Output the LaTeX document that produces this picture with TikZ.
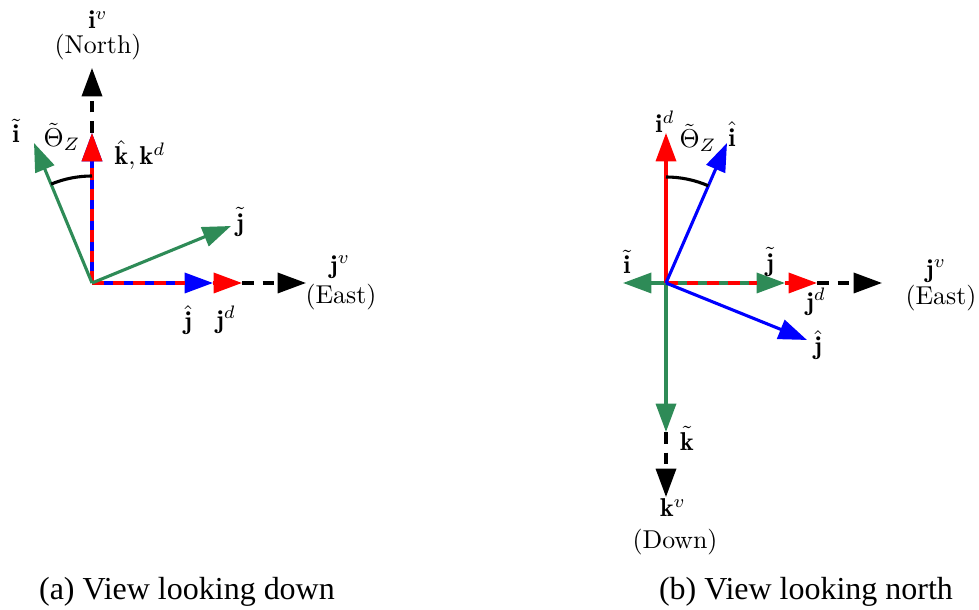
\documentclass[tikz,border=0pt]{standalone}
\usepackage{fontspec}
\newfontfamily\capfont{Liberation Serif}
\usetikzlibrary{arrows.meta,calc}
\definecolor{vgreen}{RGB}{46,139,87}
\definecolor{vred}{RGB}{255,0,0}
\definecolor{vblue}{RGB}{0,0,255}

\begin{document}
\begin{tikzpicture}[x=0.3876pt, y=-0.3876pt,
    >={Triangle[length=11pt,width=7.8pt]},
    vec/.style={line width=1.2pt, ->},
    dvec/.style={vec, dash pattern=on 4.5pt off 3.5pt},
    dline/.style={line width=1.2pt, dash pattern=on 4.5pt off 3.5pt},
    lbl/.style={inner sep=0pt},
    captext/.style={inner sep=0pt, font=\capfont\fontsize{12.4}{14}\selectfont}]

    \useasboundingbox (0,0) rectangle (979,610);

    % ---------------- (a) view looking down ----------------
    \coordinate (oa) at (92,283);
    \coordinate (iv) at (92,68);
    \coordinate (kd) at (92,133);
    \coordinate (jh) at (213,283);
    \coordinate (jd) at (242,283);
    \coordinate (jv) at (306,283);
    \coordinate (it) at (34,143);
    \coordinate (jt) at (231,226);

    % vehicle frame (black, dashed)
    \draw[dvec, black] (kd) -- (iv);
    \draw[dvec, black] (jd) -- (jv);

    % estimate (blue) under desired (red, dashed)
    \draw[vec, vblue] (oa) -- (kd);
    \draw[dvec, vred] (oa) -- (kd);
    \draw[vec, vblue] (oa) -- (jh);
    \draw[dline, vred, shorten >=11pt] (oa) -- (jh);
    \draw[vec, vred] (jh) -- (jd);

    % true frame (green)
    \draw[vec, vgreen] (oa) -- (it);
    \draw[vec, vgreen] (oa) -- (jt);

    % yaw angle
    \draw[line width=1.2pt] (oa) ++(270:107) arc[start angle=270, end angle=247.5, radius=107];

    \node[lbl] (lIv) at (98,20) {$\mathbf{i}^v$};
    \node[lbl] (lNorth) at (98,47) {(North)};
    \node[lbl] (lIt) at (16,131) {$\tilde{\mathbf{i}}$};
    \node[lbl] (lThA) at (62,137) {$\tilde{\Theta}_Z$};
    \node[lbl] (lKd) at (140,155) {$\hat{\mathbf{k}},\mathbf{k}^d$};
    \node[lbl] (lJt) at (240,222) {$\tilde{\mathbf{j}}$};
    \node[lbl] (lJv) at (340,267) {$\mathbf{j}^v$};
    \node[lbl] (lEastA) at (341,297) {(East)};
    \node[lbl] (lJh) at (188,320) {$\hat{\mathbf{j}}$};
    \node[lbl] (lJd) at (226,320) {$\mathbf{j}^d$};

    % ---------------- (b) view looking north ----------------
    \coordinate (ob) at (666,283);
    \coordinate (idb) at (666,133);
    \coordinate (ihb) at (727,143);
    \coordinate (jhb) at (807,340);
    \coordinate (itb) at (623,283);
    \coordinate (jtb) at (785,283);
    \coordinate (jdb) at (817,283);
    \coordinate (jvb) at (882,283);
    \coordinate (ktb) at (666,432);
    \coordinate (kvb) at (666,497);

    % vehicle frame (black, dashed)
    \draw[dvec, black] (jdb) -- (jvb);
    \draw[dvec, black] (ktb) -- (kvb);

    % true frame (green)
    \draw[vec, vgreen] (ob) -- (itb);
    \draw[vec, vgreen] (ob) -- (ktb);
    \draw[vec, vgreen] (ob) -- (jtb);

    % desired frame (red)
    \draw[vec, vred] (ob) -- (idb);
    \draw[dline, vred, shorten >=11pt] (ob) -- (jtb);
    \draw[vec, vred] (jtb) -- (jdb);

    % estimate (blue)
    \draw[vec, vblue] (ob) -- (ihb);
    \draw[vec, vblue] (ob) -- (jhb);

    % yaw angle
    \draw[line width=1.2pt] (ob) ++(270:106) arc[start angle=270, end angle=293.5, radius=106];

    \node[lbl] (lId) at (665,122) {$\mathbf{i}^d$};
    \node[lbl] (lThB) at (698,138) {$\tilde{\Theta}_Z$};
    \node[lbl] (lIh) at (732,134) {$\hat{\mathbf{i}}$};
    \node[lbl] (lItB) at (627,262) {$\tilde{\mathbf{i}}$};
    \node[lbl] (lJtB) at (770,262) {$\tilde{\mathbf{j}}$};
    \node[lbl] (lJdB) at (816,302) {$\mathbf{j}^d$};
    \node[lbl] (lJvB) at (936,271) {$\mathbf{j}^v$};
    \node[lbl] (lEastB) at (941,298) {(East)};
    \node[lbl] (lJhB) at (818,345) {$\hat{\mathbf{j}}$};
    \node[lbl] (lKt) at (687,438) {$\tilde{\mathbf{k}}$};
    \node[lbl] (lKv) at (673,508) {$\mathbf{k}^v$};
    \node[lbl] (lDown) at (675,542) {(Down)};

    % captions
    \node[captext] (capA) at (187,592) {(a) View looking down};
    \node[captext] (capB) at (806,592) {(b) View looking north};

\end{tikzpicture}
\end{document}
